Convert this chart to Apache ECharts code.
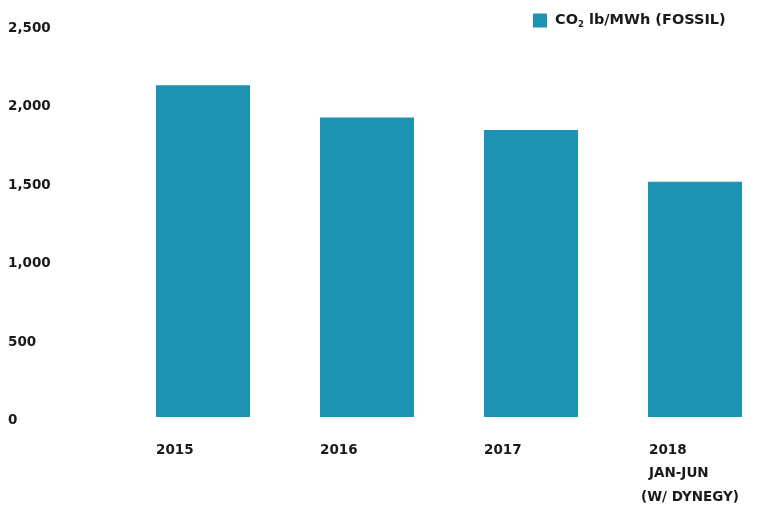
<!DOCTYPE html>
<html>
<head>
<meta charset="utf-8">
<script src="https://cdn.jsdelivr.net/npm/echarts@6/dist/echarts.min.js"></script>
<style>html,body{margin:0;padding:0;background:#fff;}#c{width:758px;height:506px;}</style>
</head>
<body>
<div id="c"></div>
<script>
var categories = ['2015', '2016', '2017', '2018\nJAN-JUN\n(W/ DYNEGY)'];
var co2Values = [2115, 1910, 1830, 1500];
var yTicks = [0, 500, 1000, 1500, 2000, 2500];
var seriesName = 'CO2 lb/MWh (FOSSIL)';

var FONT = '"DejaVu Sans", sans-serif';
var FW = 'bold';
var FS = 13.5;
var TXT = '#1a1a1a';
var chart = echarts.init(document.getElementById('c'), null, {renderer: 'canvas'});
chart.setOption({
  animation: false,
  backgroundColor: '#ffffff',
  grid: {left: 121, width: 656, top: 25, bottom: 89, containLabel: false, outerBoundsMode: 'none'},
  legend: {
    left: 533, top: 13,
    padding: 0,
    itemWidth: 14, itemHeight: 14,
    icon: 'rect',
    data: [seriesName],
    formatter: function () { return '{t|CO}{s|2}{t| lb/MWh (FOSSIL)}'; },
    textStyle: {
      padding: [0, 0, 0, 3],
      rich: {
        t: {fontFamily: FONT, fontWeight: FW, fontSize: 14.5, color: TXT},
        s: {fontFamily: FONT, fontWeight: FW, fontSize: 8.5, color: TXT, verticalAlign: 'bottom', padding: [8, 0, 0, 0]}
      }
    }
  },
  xAxis: {
    type: 'category',
    data: categories,
    axisLine: {show: false},
    axisTick: {show: false},
    axisLabel: {
      margin: 22,
      formatter: function (v) {
        var lines = v.split('\n');
        if (lines.length === 1) return '{a|' + v + '}';
        return '{b|' + lines[0] + '}\n{b|' + lines[1] + '}\n{c|' + lines[2] + '}';
      },
      rich: {
        a: {width: 94, align: 'left', fontFamily: FONT, fontWeight: FW, fontSize: FS, color: TXT, lineHeight: 23},
        b: {width: 100, align: 'left', padding: [0, 0, 0, 8], fontFamily: FONT, fontWeight: FW, fontSize: FS, color: TXT, lineHeight: 23},
        c: {width: 108, align: 'left', fontFamily: FONT, fontWeight: FW, fontSize: FS, color: TXT, lineHeight: 25}
      }
    }
  },
  yAxis: {
    type: 'value',
    min: yTicks[0], max: yTicks[yTicks.length - 1], interval: 500,
    axisLine: {show: false},
    axisTick: {show: false},
    splitLine: {show: false},
    axisLabel: {
      align: 'left',
      margin: 113,
      verticalAlign: 'top',
      lineHeight: 7,
      fontFamily: FONT, fontWeight: FW, fontSize: FS, color: TXT,
      formatter: function (v) { return v.toLocaleString('en-US'); }
    }
  },
  series: [{
    name: seriesName,
    type: 'bar',
    data: co2Values,
    barWidth: 94,
    itemStyle: {color: '#1c93b2'}
  }]
});
</script>
</body>
</html>
